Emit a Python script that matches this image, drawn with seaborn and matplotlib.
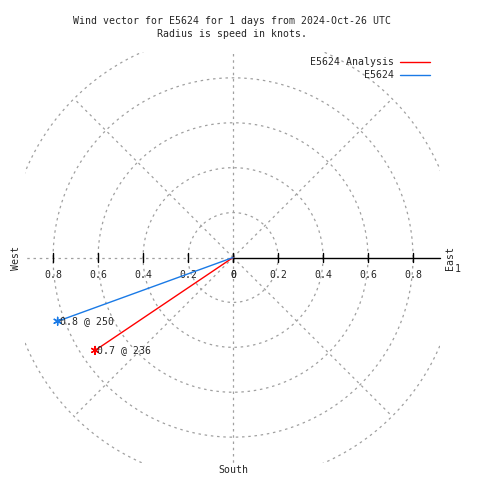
import numpy as np
import pandas as pd
import matplotlib
matplotlib.use("Agg")
import matplotlib.pyplot as plt
import seaborn as sns

# ---- data ----
series = ["E5624 Analysis", "E5624"]
speeds = [0.74, 0.83]          # knots
directions = [236, 250]        # degrees (compass)
colors = ["#ff0000", "#1a7ae6"]
radial_ticks = [0.2, 0.4, 0.6, 0.8]
title_lines = ["Wind vector for E5624 for 1 days from 2024-Oct-26 UTC",
               "Radius is speed in knots."]

sns.set_style("white")
plt.rcParams["font.family"] = ["DejaVu Sans Mono", "DejaVu Sans"]
FS = 7.1

fig = plt.figure(figsize=(4.8, 4.8), dpi=100)
ax = fig.add_axes([25 / 480, 17 / 480, 415 / 480, 411 / 480])
ax.set_xlim(-0.925, 0.92)
ax.set_ylim(-0.915, 0.915)
ax.axis("off")

grid_kw = dict(color="#a0a0a0", lw=0.9, ls=(0, (2, 3)), zorder=1)

# grid circles
th = np.linspace(0, 2 * np.pi, 721)
for r in radial_ticks + [1.0]:
    ax.plot(r * np.cos(th), r * np.sin(th), **grid_kw)
# diagonal spokes
for a in [45, 135, 225, 315]:
    ax.plot([0, np.cos(np.radians(a))], [0, np.sin(np.radians(a))], **grid_kw)
# vertical dashed axis and west dashed half
ax.plot([0, 0], [-1, 1], **grid_kw)
ax.plot([-1, 0], [0, 0], **grid_kw)
# east solid axis
ax.plot([0, 0.92], [0, 0], color="black", lw=1, zorder=2, clip_on=False)
# ticks
tick_h = 0.022
for t in [0] + radial_ticks:
    for sgn in (-1, 1):
        ax.plot([sgn * t, sgn * t], [-tick_h, tick_h], color="black", lw=1, zorder=2)
        lab = "0" if t == 0 else f"{t:.1f}"
        ax.text(sgn * t, -0.08, lab, ha="center", va="center", fontsize=FS)
ax.text(1.0, -0.05, "1", ha="center", va="center", fontsize=FS, clip_on=False)

# direction labels
ax.text(-0.965, 0, "West", rotation=90, ha="center", va="center", fontsize=FS, clip_on=False)
ax.text(0.965, 0, "East", rotation=90, ha="center", va="center", fontsize=FS, clip_on=False)
ax.text(0, -0.945, "South", ha="center", va="center", fontsize=FS, clip_on=False)

# vectors
sp = np.array(speeds)
dr = np.radians(directions)
ex = sp * np.sin(dr)
ey = sp * np.cos(dr)
rows = []
for name, x, y in zip(series, ex, ey):
    rows.append({"series": name, "x": 0.0, "y": 0.0, "order": 0})
    rows.append({"series": name, "x": x, "y": y, "order": 1})
df = pd.DataFrame(rows)
pal = dict(zip(series, colors))
sns.lineplot(data=df, x="x", y="y", hue="series", hue_order=series, palette=pal,
             sort=False, estimator=None, lw=1, ax=ax, zorder=3)
ends = pd.DataFrame({"series": series, "x": ex, "y": ey})
sns.scatterplot(data=ends, x="x", y="y", hue="series", hue_order=series, palette=pal,
                marker=(6, 2, 0), s=32, linewidth=1, legend=False, ax=ax, zorder=4)
for s, d, x, y in zip(speeds, directions, ex, ey):
    ax.text(x + 0.01, y, f"{s:.1f} @ {d}", ha="left", va="center", fontsize=FS, zorder=5)

leg = ax.legend(loc="upper right", bbox_to_anchor=(430 / 480, 1 - 57 / 480),
                bbox_transform=fig.transFigure, frameon=False, markerfirst=False,
                fontsize=FS, handlelength=3.0, handletextpad=0.7, labelspacing=0.3,
                borderpad=0, borderaxespad=0)

fig.text(0.484, 1 - 21 / 480, title_lines[0], ha="center", va="center", fontsize=FS)
fig.text(0.484, 1 - 34 / 480, title_lines[1], ha="center", va="center", fontsize=FS)

fig.savefig("out.png", dpi=100)
